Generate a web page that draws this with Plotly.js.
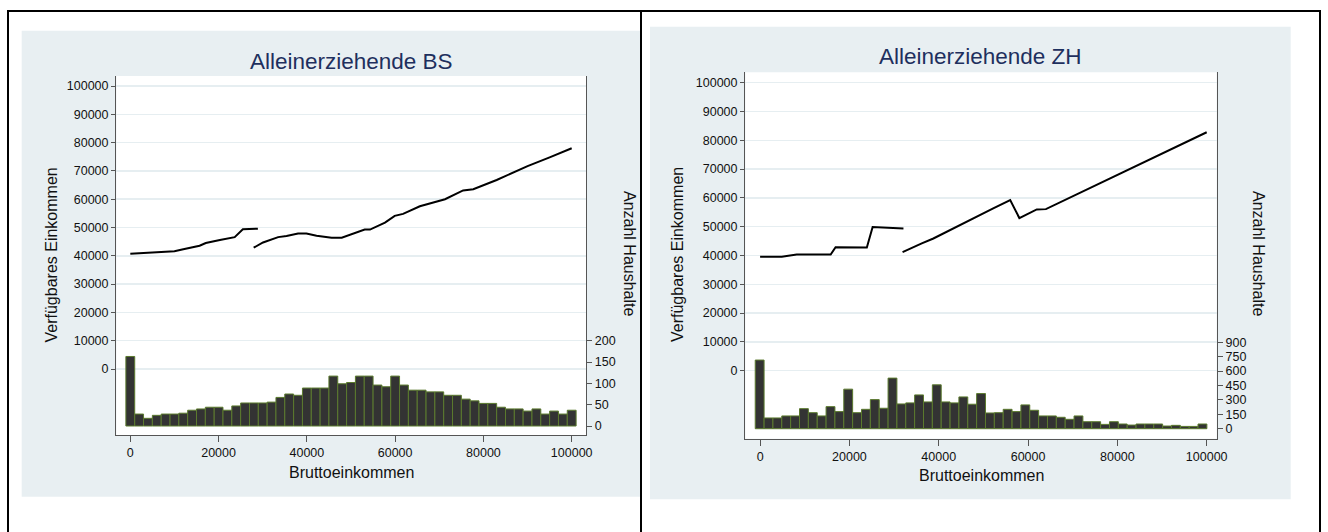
<!DOCTYPE html>
<html>
<head>
<meta charset="utf-8">
<script src="https://cdn.plot.ly/plotly-3.0.1.min.js"></script>
<style>
  html, body { margin: 0; padding: 0; background: #ffffff; }
  #chart { width: 1328px; height: 532px; }
</style>
</head>
<body>
<div id="chart"></div>
<script>
// ---------------- DATA ----------------
// Histogram of households (Anzahl Haushalte) per gross-income bin
const binStartBS = 0, binWidthBS = 2000;
const countsBS = [163, 28, 18, 25, 28, 28, 30, 37, 40, 44, 44, 37, 47, 54, 54, 54, 56, 67, 75, 72,
                  89, 89, 89, 117, 99, 102, 117, 117, 96, 92, 117, 96, 84, 84, 80, 80, 72, 72, 63, 59,
                  53, 53, 44, 40, 40, 35, 40, 28, 35, 28, 37];
const binStartZH = -100, binWidthZH = 1983;
const countsZH = [715, 112, 112, 133, 133, 209, 167, 133, 230, 178, 412, 167, 202, 303, 213, 527, 258, 269, 352, 279,
                  457, 279, 269, 331, 255, 366, 164, 167, 202, 178, 248, 192, 133, 133, 119, 98, 133, 73, 73, 45,
                  73, 49, 38, 49, 49, 49, 28, 35, 24, 24, 49];

// Disposable income (Verfügbares Einkommen) vs gross income (Bruttoeinkommen); null = gap
const grossBS = [0, 8500, 10000, 12000, 14000, 15700, 17100, 19100, 20300, 23650, 25500, 28900, null,
                 27950, 30070, 33500, 35400, 38000, 39900, 42200, 45600, 47900, 51600, 53100, 54300, 57700,
                 59900, 61800, 65600, 68250, 71300, 75400, 77700, 83000, 86000, 88000, 90000, 95000, 100000];
const dispBS  = [40700, 41300, 41600, 42300, 43000, 43550, 44500, 45300, 45600, 46600, 49350, 49600, null,
                 42850, 44700, 46600, 47000, 47900, 47900, 47100, 46400, 46400, 48300, 49250, 49250, 51700,
                 54100, 54800, 57500, 58700, 60000, 63100, 63500, 66800, 69000, 70200, 71700, 74800, 78000];
const grossZH = [0, 4850, 8200, 15800, 16900, 23900, 25200, 32100, null,
                 31900, 34500, 36200, 38800, 47800, 50500, 52200, 56000, 58050, 61950, 64000, 100000];
const dispZH  = [39550, 39550, 40350, 40350, 42900, 42800, 49900, 49400, null,
                 41150, 43100, 44200, 45900, 53100, 55100, 56350, 59250, 53000, 56000, 56100, 82800];

const leftTicks = [0, 10000, 20000, 30000, 40000, 50000, 60000, 70000, 80000, 90000, 100000];
const xTicks = [0, 20000, 40000, 60000, 80000, 100000];
const rightTicksBS = [0, 50, 100, 150, 200];
const rightTicksZH = [0, 150, 300, 450, 600, 750, 900];

const titleBS = 'Alleinerziehende BS';
const titleZH = 'Alleinerziehende ZH';
const xTitle = 'Bruttoeinkommen';
const yTitle = 'Verfügbares Einkommen';
const y2Title = 'Anzahl Haushalte';

// ---------------- STYLE / LAYOUT ----------------
const W = 1328, H = 532;
const px = v => v / W;
const py = v => 1 - v / H;
const FONT = 'Liberation Sans, Arial, Helvetica, sans-serif';
const PANEL = '#e8eff2';
const GRID = '#e6eef1';
const AXIS = '#555555';
const TITLE_COLOR = '#1e2f5e';
const tickFont = {family: FONT, size: 12.5, color: '#111111'};

const barStyle = {color: '#333333', line: {color: '#5b7a2e', width: 1}};
const lineStyle = {color: '#000000', width: 2};

const traces = [
  {type: 'bar', x0: binStartBS, dx: binWidthBS, y: countsBS, width: binWidthBS,
   xaxis: 'x', yaxis: 'y2', marker: barStyle, hoverinfo: 'skip'},
  {type: 'scatter', mode: 'lines', x: grossBS, y: dispBS, xaxis: 'x', yaxis: 'y',
   line: lineStyle, connectgaps: false},
  {type: 'bar', x0: binStartZH, dx: binWidthZH, y: countsZH, width: binWidthZH,
   xaxis: 'x2', yaxis: 'y4', marker: barStyle, hoverinfo: 'skip'},
  {type: 'scatter', mode: 'lines', x: grossZH, y: dispZH, xaxis: 'x2', yaxis: 'y3',
   line: lineStyle, connectgaps: false}
];

function xAxis(l, r, range, anchor) {
  return {domain: [px(l), px(r)], range: range, anchor: anchor,
    tickmode: 'array', tickvals: xTicks, tickformat: 'd', ticks: 'outside', ticklen: 6, tickwidth: 1, tickcolor: AXIS,
    showline: true, linecolor: AXIS, linewidth: 1.3, showgrid: false, zeroline: false,
    tickfont: tickFont, fixedrange: true};
}
function yLeft(top, bottom, range, anchor) {
  return {domain: [py(bottom), py(top)], range: range, anchor: anchor,
    tickmode: 'array', tickvals: leftTicks, tickformat: 'd', ticks: 'outside', ticklen: 4, tickwidth: 1, tickcolor: AXIS,
    showline: true, linecolor: AXIS, linewidth: 1.3, showgrid: true, gridcolor: GRID, gridwidth: 1.5,
    zeroline: false, tickfont: tickFont, fixedrange: true};
}
function yRight(overlay, range, ticks, anchor) {
  return {overlaying: overlay, side: 'right', anchor: anchor, range: range,
    tickmode: 'array', tickvals: ticks, tickformat: 'd', ticks: 'outside', ticklen: 5, tickwidth: 1, tickcolor: AXIS,
    showline: true, linecolor: AXIS, linewidth: 1.3, showgrid: false, zeroline: false,
    tickfont: tickFont, fixedrange: true};
}

const shapes = [
  // panel backgrounds
  {type: 'rect', xref: 'paper', yref: 'paper', x0: px(21.7), x1: px(640), y0: py(496.7), y1: py(30.7),
   fillcolor: PANEL, line: {width: 0}, layer: 'below'},
  {type: 'rect', xref: 'paper', yref: 'paper', x0: px(650), x1: px(1290.7), y0: py(499.3), y1: py(26.7),
   fillcolor: PANEL, line: {width: 0}, layer: 'below'},
  // white plot regions
  {type: 'rect', xref: 'paper', yref: 'paper', x0: px(116.3), x1: px(586), y0: py(435), y1: py(76),
   fillcolor: '#ffffff', line: {width: 0}, layer: 'below'},
  {type: 'rect', xref: 'paper', yref: 'paper', x0: px(745.3), x1: px(1216.7), y0: py(438.7), y1: py(72.3),
   fillcolor: '#ffffff', line: {width: 0}, layer: 'below'},
  // outer black frame and divider
  {type: 'line', xref: 'paper', yref: 'paper', x0: px(7), x1: px(1321), y0: py(11), y1: py(11),
   line: {color: '#000000', width: 2}},
  {type: 'line', xref: 'paper', yref: 'paper', x0: px(8), x1: px(8), y0: py(11), y1: 0,
   line: {color: '#000000', width: 2}},
  {type: 'line', xref: 'paper', yref: 'paper', x0: px(1320), x1: px(1320), y0: py(11), y1: 0,
   line: {color: '#000000', width: 2}},
  {type: 'line', xref: 'paper', yref: 'paper', x0: px(641), x1: px(641), y0: py(11), y1: 0,
   line: {color: '#000000', width: 2}}
];

function ann(text, x, y, size, color, angle) {
  return {text: text, xref: 'paper', yref: 'paper', x: px(x), y: py(y),
    xanchor: 'center', yanchor: 'middle', showarrow: false, textangle: angle || 0,
    font: {family: FONT, size: size, color: color}};
}

const annotations = [
  ann(titleBS, 351, 61, 22.5, TITLE_COLOR),
  ann(titleZH, 980, 56.5, 22.5, TITLE_COLOR),
  ann(xTitle, 351, 472, 16, '#111111'),
  ann(xTitle, 981, 475, 16, '#111111'),
  ann(yTitle, 50.5, 255, 16, '#111111', -90),
  ann(yTitle, 677, 255, 16, '#111111', -90),
  ann(y2Title, 630, 254, 16, '#111111', 90),
  ann(y2Title, 1259, 254, 16, '#111111', 90)
];

const layout = {
  width: W, height: H,
  margin: {l: 0, r: 0, t: 0, b: 0, pad: 0},
  paper_bgcolor: '#ffffff', plot_bgcolor: 'rgba(0,0,0,0)',
  showlegend: false, bargap: 0, barmode: 'overlay',
  font: {family: FONT},
  xaxis: xAxis(116.3, 586, [-3172, 103240], 'y'),
  yaxis: yLeft(76, 435, [-23322, 103534], 'x'),
  yaxis2: yRight('y', [-21.1, 820.6], rightTicksBS, 'x'),
  xaxis2: xAxis(745.3, 1216.7, [-3314, 102239], 'y3'),
  yaxis3: yLeft(72.3, 438.7, [-23611, 103611], 'x2'),
  yaxis4: yRight('y3', [-104, 3712], rightTicksZH, 'x2'),
  shapes: shapes,
  annotations: annotations
};

Plotly.newPlot('chart', traces, layout, {staticPlot: true, displayModeBar: false});
</script>
</body>
</html>
